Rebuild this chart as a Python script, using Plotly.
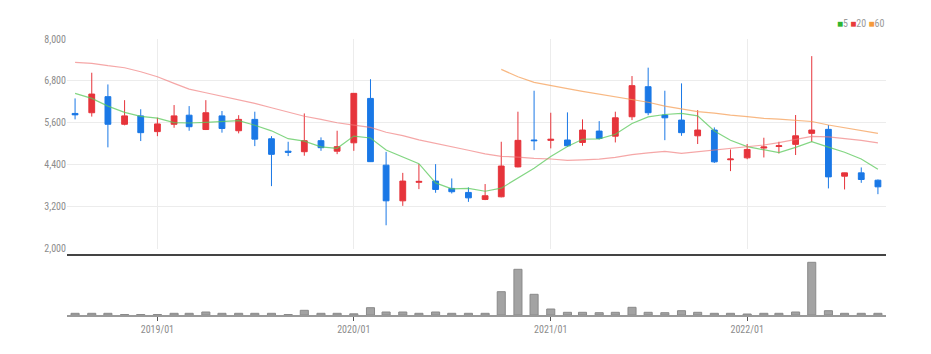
import plotly.graph_objects as go

months = [
    "2018-08-01", "2018-09-01", "2018-10-01", "2018-11-01", "2018-12-01",
    "2019-01-01", "2019-02-01", "2019-03-01", "2019-04-01", "2019-05-01",
    "2019-06-01", "2019-07-01", "2019-08-01", "2019-09-01", "2019-10-01",
    "2019-11-01", "2019-12-01", "2020-01-01", "2020-02-01", "2020-03-01",
    "2020-04-01", "2020-05-01", "2020-06-01", "2020-07-01", "2020-08-01",
    "2020-09-01", "2020-10-01", "2020-11-01", "2020-12-01", "2021-01-01",
    "2021-02-01", "2021-03-01", "2021-04-01", "2021-05-01", "2021-06-01",
    "2021-07-01", "2021-08-01", "2021-09-01", "2021-10-01", "2021-11-01",
    "2021-12-01", "2022-01-01", "2022-02-01", "2022-03-01", "2022-04-01",
    "2022-05-01", "2022-06-01", "2022-07-01", "2022-08-01", "2022-09-01",
]

open_ = [5870, 5890, 6350, 5560, 5800, 5350, 5560, 5820, 5410, 5800,
         5375, 5700, 5145, 4790, 4775, 5090, 4790, 5030, 6300, 4390,
         3370, 3900, 3935, 3725, 3610, 3410, 3485, 4340, 5110, 5100,
         5110, 5040, 5365, 5220, 5775, 6635, 5825, 5680, 5230, 5395,
         4545, 4600, 4880, 4925, 4985, 5300, 5415, 4075, 4170, 3960]
high = [6300, 7035, 6700, 6250, 5990, 5750, 6110, 6080, 6250, 5940,
        5820, 5920, 5220, 5060, 5870, 5185, 5375, 6450, 6850, 4770,
        4170, 4420, 4420, 4010, 3755, 3850, 5060, 5920, 6520, 5890,
        5900, 5700, 5650, 5920, 6940, 7180, 6520, 6730, 5965, 5470,
        4840, 4995, 5175, 5060, 5825, 7510, 5540, 4175, 4325, 3980]
low = [5700, 5780, 4900, 5530, 5080, 5220, 5460, 5375, 5395, 5320,
       5300, 4935, 3790, 4650, 4660, 4800, 4705, 4800, 4480, 2670,
       3225, 3705, 3600, 3580, 3340, 3390, 3470, 4330, 4820, 4870,
       4915, 4945, 5125, 5040, 5680, 5820, 5105, 5230, 4995, 4455,
       4220, 4560, 4610, 4725, 4680, 5060, 3725, 3695, 3885, 3560]
close = [5830, 6425, 5560, 5800, 5320, 5570, 5800, 5490, 5890, 5440,
         5700, 5135, 4700, 4760, 5090, 4890, 4920, 6445, 4490, 3370,
         3935, 3925, 3695, 3630, 3455, 3515, 4365, 5100, 5090, 5130,
         4945, 5395, 5155, 5745, 6665, 5890, 5745, 5320, 5395, 4485,
         4565, 4840, 4910, 4945, 5230, 5395, 4055, 4170, 3980, 3770]

ma5 = [6445, 6302, 6080, 5900, 5787, 5735, 5610, 5596, 5614, 5638,
       5664, 5531, 5373, 5147, 5077, 4915, 4872, 5221, 5167, 4823,
       4632, 4433, 3883, 3711, 3728, 3644, 3732, 4013, 4305, 4640,
       4926, 5132, 5143, 5274, 5581, 5770, 5840, 5873, 5803, 5367,
       5102, 4921, 4839, 4749, 4898, 5064, 4907, 4759, 4566, 4274]
ma20 = [7332, 7303, 7236, 7178, 7064, 6920, 6730, 6568, 6462, 6368,
        6272, 6158, 6033, 5900, 5790, 5700, 5603, 5537, 5471, 5331,
        5237, 5112, 5018, 4910, 4817, 4714, 4642, 4623, 4583, 4567,
        4529, 4542, 4565, 4614, 4693, 4743, 4784, 4728, 4773, 4829,
        4861, 4906, 4967, 5033, 5122, 5216, 5200, 5154, 5098, 5030]
ma60 = [None] * 26 + [7130, 6920, 6760, 6680, 6580, 6500, 6420, 6350,
                      6270, 6190, 6080, 5990, 5920, 5880, 5820, 5780,
                      5730, 5710, 5680, 5640, 5540, 5460, 5390, 5300]

volume = [1700, 1700, 1700, 500, 500, 500, 1700, 1700, 3000, 1700,
          1700, 1700, 1700, 500, 4700, 1700, 1700, 1200, 7300, 3000,
          3000, 1700, 3000, 1700, 1700, 1700, 23300, 45700, 20700, 6000,
          2700, 2700, 2300, 2700, 7700, 2700, 2300, 4300, 2700, 1700,
          1700, 1000, 1700, 1700, 3000, 52700, 4300, 1700, 1700, 1700]

UP = "#e6343b"
DOWN = "#1a78e6"
FONT = "Liberation Sans Narrow, Arial Narrow, Roboto Condensed, Roboto, sans-serif"

fig = go.Figure()

fig.add_trace(go.Candlestick(
    x=months, open=open_, high=high, low=low, close=close,
    increasing=dict(line=dict(color=UP, width=1), fillcolor=UP),
    decreasing=dict(line=dict(color=DOWN, width=1), fillcolor=DOWN),
    whiskerwidth=0, xaxis="x", yaxis="y", showlegend=False,
))

for vals, col in [(ma5, "rgba(90,200,90,0.75)"),
                  (ma20, "rgba(240,120,120,0.65)"),
                  (ma60, "rgba(245,160,90,0.75)")]:
    fig.add_trace(go.Scatter(
        x=months, y=vals, mode="lines",
        line=dict(color=col, width=1.2),
        xaxis="x", yaxis="y", showlegend=False, hoverinfo="skip",
    ))

fig.add_trace(go.Bar(
    x=months, y=volume, marker=dict(color="#a3a3a3", line=dict(color="#8a8a8a", width=1)),
    width=15 * 86400000, xaxis="x2", yaxis="y2", showlegend=False,
))

H = 354
T = 39
B = 39
PH = H - T - B
def py(pix):
    return (H - B - pix) / PH

xr = ["2018-07-17", "2022-09-16"]

fig.update_layout(
    width=931, height=354,
    margin=dict(l=67, r=45, t=T, b=B),
    paper_bgcolor="white", plot_bgcolor="white",
    font=dict(family=FONT, size=10, color="#8c8c8c"),
    boxgap=0.45,
    xaxis=dict(domain=[0, 1], anchor="y", type="date", range=xr,
               showgrid=True, gridcolor="#ececec", gridwidth=1,
               dtick="M12", tick0="2019-01-01", showticklabels=False,
               ticks="", zeroline=False, showline=False,
               rangeslider=dict(visible=False), matches="x2"),
    yaxis=dict(domain=[py(248.7), 1], range=[2000, 8000], dtick=1200,
               tick0=2000, tickformat=",", showgrid=True,
               gridcolor="#ececec", zeroline=False, showline=False,
               ticks="", tickfont=dict(size=10, color="#8c8c8c")),
    xaxis2=dict(domain=[0, 1], anchor="y2", type="date", range=xr,
                showgrid=False, dtick="M12", tick0="2019-01-01",
                tickformat="%Y/%m", ticks="outside", ticklen=4,
                tickcolor="#555", showline=True, linecolor="#9a9a9a",
                linewidth=2, zeroline=False,
                tickfont=dict(size=10, color="#8c8c8c"),
                rangeslider=dict(visible=False)),
    yaxis2=dict(domain=[0, py(258)], range=[0, 57000], visible=False,
                showgrid=False, zeroline=False),
    shapes=[dict(type="line", xref="paper", yref="paper",
                 x0=0, x1=1, y0=py(255), y1=py(255),
                 line=dict(color="#444444", width=2))],
    annotations=[dict(
        xref="paper", yref="paper", x=1, y=py(24),
        xanchor="right", yanchor="middle", showarrow=False,
        text=("<span style='color:#2fb52f'>■</span>5 "
              "<span style='color:#e83a3a'>■</span>20 "
              "<span style='color:#f59a3b'>■</span>60"),
        font=dict(family=FONT, size=10, color="#999999"),
    )],
)

fig.write_html("out.html")
